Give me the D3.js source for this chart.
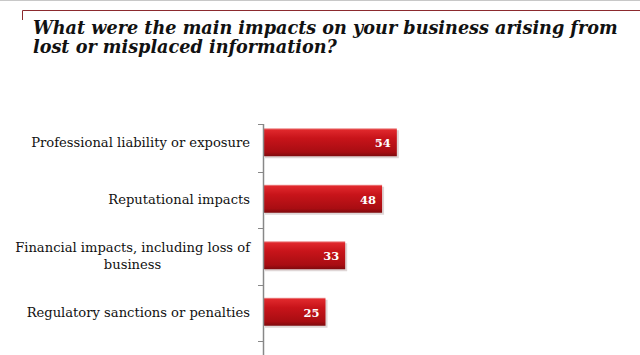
<!DOCTYPE html>
<html>
<head>
<meta charset="utf-8">
<script src="https://cdn.jsdelivr.net/npm/d3@7"></script>
<style>
  html, body { margin: 0; padding: 0; background: #fff; }
  svg { display: block; }
</style>
</head>
<body>
<svg id="chart" width="640" height="355"></svg>
<script>
// данные диаграммы
const titleLines = [
    "What were the main impacts on your business arising from",
    "lost or misplaced information?"
];
const categories = [
    ["Professional liability or exposure"],
    ["Reputational impacts"],
    ["Financial impacts, including loss of", "business"],
    ["Regulatory sanctions or penalties"]
];
const values = [54, 48, 33, 25];

const serif = "'DejaVu Serif', 'Liberation Serif', serif";
const svg = d3.select("#chart");

const area = {
    axisX: 263,
    top: 124,
    bottom: 355,
    bandTop: 115,
    bandBottom: 341,
    barH: 28
};

// верхняя рамка
svg.append("line")
    .attr("x1", 0).attr("x2", 640).attr("y1", 0.5).attr("y2", 0.5)
    .style("stroke", "#c8c8c8").style("stroke-width", 1);
svg.append("path")
    .attr("d", "M22.5,20 V10.5 H640")
    .style("fill", "none").style("stroke", "#8c2a2e").style("stroke-width", 1);

// заголовок
const title = svg.append("g").selectAll("text")
    .data(titleLines)
    .enter()
    .append("text")
    .attr("x", 33)
    .attr("y", (d, i) => 34 + i * 19)
    .style("font-family", serif)
    .style("font-style", "italic")
    .style("font-weight", "bold")
    .style("font-size", "18px")
    .style("fill", "#111")
    .text(d => d);
// подгоняем размер по ширине первой строки
const tw = title.nodes()[0].getComputedTextLength();
title.style("font-size", (18 * 585 / tw) + "px");

// шкалы
const idx = d3.range(categories.length);
const scaleY = d3.scaleBand()
    .domain(idx)
    .range([area.bandTop, area.bandBottom]);

const scaleX = d3.scaleLinear()
    .domain([0, 100])
    .range([area.axisX + 1, area.axisX + 1 + 246]);

// градиент для столбцов
const defs = svg.append("defs");
const grad = defs.append("linearGradient")
    .attr("id", "barGrad")
    .attr("x1", 0).attr("x2", 0).attr("y1", 0).attr("y2", 1);
grad.append("stop").attr("offset", "0%").attr("stop-color", "#f0a0a0");
grad.append("stop").attr("offset", "6%").attr("stop-color", "#e0282c");
grad.append("stop").attr("offset", "35%").attr("stop-color", "#c8141a");
grad.append("stop").attr("offset", "85%").attr("stop-color", "#a80d12");
grad.append("stop").attr("offset", "100%").attr("stop-color", "#7e0a0d");

const barY = i => scaleY(i) + scaleY.bandwidth() / 2 - area.barH / 2 - 1;

// тени
svg.selectAll(".shadow")
    .data(values)
    .enter()
    .append("rect")
    .attr("x", scaleX(0) + 1)
    .attr("y", (d, i) => barY(i) + 2)
    .attr("width", d => scaleX(d) - scaleX(0) + 1)
    .attr("height", area.barH)
    .style("fill", "#dfd6d6");

// столбцы
svg.selectAll(".bar")
    .data(values)
    .enter()
    .append("rect")
    .attr("x", scaleX(0))
    .attr("y", (d, i) => barY(i))
    .attr("width", d => scaleX(d) - scaleX(0))
    .attr("height", area.barH)
    .style("fill", "url(#barGrad)");

// значения
svg.selectAll(".val")
    .data(values)
    .enter()
    .append("text")
    .attr("x", d => scaleX(d) - 6)
    .attr("y", (d, i) => barY(i) + area.barH / 2 + 5)
    .attr("text-anchor", "end")
    .style("font-family", serif)
    .style("font-weight", "bold")
    .style("font-size", "11.5px")
    .style("fill", "#fff")
    .text(d => d);

// ось
svg.append("line")
    .attr("x1", area.axisX + 0.5).attr("x2", area.axisX + 0.5)
    .attr("y1", area.top).attr("y2", area.bottom)
    .style("stroke", "#888").style("stroke-width", 1.5);

const tickYs = [area.top].concat(idx.map(i => scaleY(i) + scaleY.step()));
svg.selectAll(".tick")
    .data(tickYs)
    .enter()
    .append("line")
    .attr("x1", area.axisX - 5).attr("x2", area.axisX)
    .attr("y1", d => Math.round(d) + 0.5).attr("y2", d => Math.round(d) + 0.5)
    .style("stroke", "#888");

// подписи категорий
const labelRight = 250;
const lh = 17;
let labelSize = 14;
categories.forEach((lines, i) => {
    const cy = scaleY(i) + scaleY.bandwidth() / 2 - 1;
    const g = svg.append("g");
    const texts = g.selectAll("text")
        .data(lines)
        .enter()
        .append("text")
        .attr("y", (d, j) => cy + 5 + (j - (lines.length - 1) / 2) * lh)
        .style("font-family", serif)
        .style("font-size", labelSize + "px")
        .style("fill", "#111")
        .text(d => d);
    if (i === 0) {
        // подгоняем размер шрифта подписей по первой подписи
        labelSize = labelSize * 219 / texts.node().getComputedTextLength();
        texts.style("font-size", labelSize + "px");
    }
    const maxW = d3.max(texts.nodes(), n => n.getComputedTextLength());
    texts.attr("x", labelRight - maxW / 2).attr("text-anchor", "middle");
});
</script>
</body>
</html>
